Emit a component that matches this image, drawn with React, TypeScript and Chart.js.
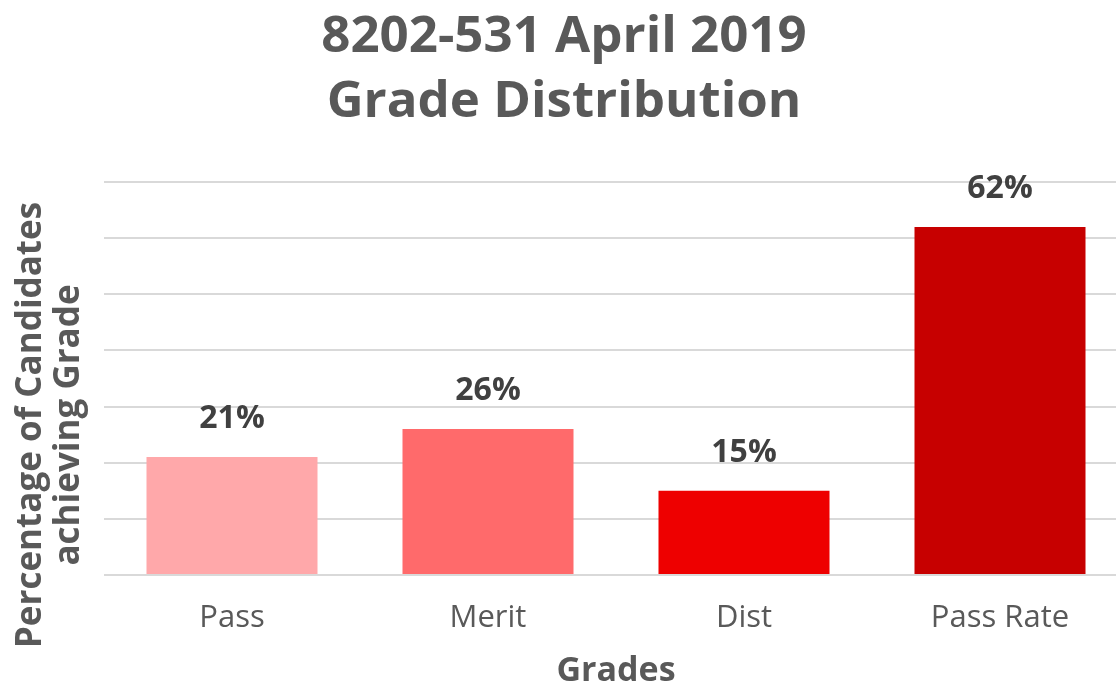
import React, { useEffect, useRef } from "react";
import { Chart, registerables } from "chart.js";

Chart.register(...registerables);

const categories = ["Pass", "Merit", "Dist", "Pass Rate"];
const values = [21, 26, 15, 62];
const barColors = ["#FFA8AA", "#FF6A6B", "#EE0000", "#C70000"];
const titleLines = ["8202-531 April 2019", "Grade Distribution"];
const yTitleLines = ["Percentage of Candidates", "achieving Grade"];
const xTitle = "Grades";
const yMax = 70;
const yStep = 10;

const FONT = "'Open Sans', Lato, sans-serif";

const labelPlugin = {
  id: "barLabels",
  afterDatasetsDraw(chart: any) {
    const ctx = chart.ctx;
    const meta = chart.getDatasetMeta(0);
    ctx.save();
    ctx.font = `bold 32px ${FONT}`;
    ctx.fillStyle = "#404040";
    ctx.textAlign = "center";
    ctx.textBaseline = "middle";
    meta.data.forEach((bar: any, i: number) => {
      ctx.fillText(values[i] + "%", bar.x, bar.y - 38);
    });
    ctx.restore();
  },
};

const yTitlePlugin = {
  id: "yTitle",
  afterDraw(chart: any) {
    const ctx = chart.ctx;
    ctx.save();
    ctx.font = `bold 35px ${FONT}`;
    ctx.fillStyle = "#595959";
    ctx.textAlign = "center";
    ctx.textBaseline = "middle";
    const xs = [31, 69];
    yTitleLines.forEach((t, i) => {
      ctx.save();
      ctx.translate(xs[i], 425);
      ctx.rotate(-Math.PI / 2);
      ctx.fillText(t, 0, 0);
      ctx.restore();
    });
    ctx.restore();
  },
};

export default function App() {
  const ref = useRef<HTMLCanvasElement | null>(null);
  useEffect(() => {
    if (!ref.current) return;
    const chart = new Chart(ref.current, {
      type: "bar",
      data: {
        labels: categories,
        datasets: [
          {
            data: values,
            backgroundColor: barColors,
            barPercentage: 1,
            categoryPercentage: 0.668,
          },
        ],
      },
      options: {
        animation: false,
        responsive: false,
        maintainAspectRatio: false,
        layout: { padding: { left: 0, right: 2, top: 0, bottom: 0 } },
        plugins: {
          legend: { display: false },
          tooltip: { enabled: false },
          title: {
            display: true,
            text: titleLines,
            color: "#595959",
            font: { family: FONT, size: 51, weight: "bold", lineHeight: "65px" },
            padding: { top: 5, bottom: 47 },
          },
        },
        scales: {
          x: {
            grid: { display: false, drawTicks: false },
            border: { display: false },
            ticks: {
              color: "#595959",
              font: { family: FONT, size: 31, lineHeight: 1.2 },
              padding: 25,
            },
            title: {
              display: true,
              text: xTitle,
              color: "#595959",
              font: { family: FONT, size: 34, weight: "bold", lineHeight: 1 },
              padding: { top: 0, bottom: 0 },
            },
            afterFit(scale: any) {
              scale.height = 113;
            },
          },
          y: {
            min: 0,
            max: yMax,
            ticks: { display: false, stepSize: yStep },
            grid: { color: "#D9D9D9", lineWidth: 2, drawTicks: false },
            border: { display: false },
            afterFit(scale: any) {
              scale.width = 104;
            },
          },
        },
      },
      plugins: [labelPlugin, yTitlePlugin],
    });
    return () => chart.destroy();
  }, []);
  return (
    <div
      style={{
        position: "absolute",
        left: 0,
        top: 0,
        width: 1116,
        height: 688,
        overflow: "hidden",
        background: "#fff",
      }}
    >
      <canvas ref={ref} width={1130} height={688} style={{ display: "block" }} />
    </div>
  );
}
